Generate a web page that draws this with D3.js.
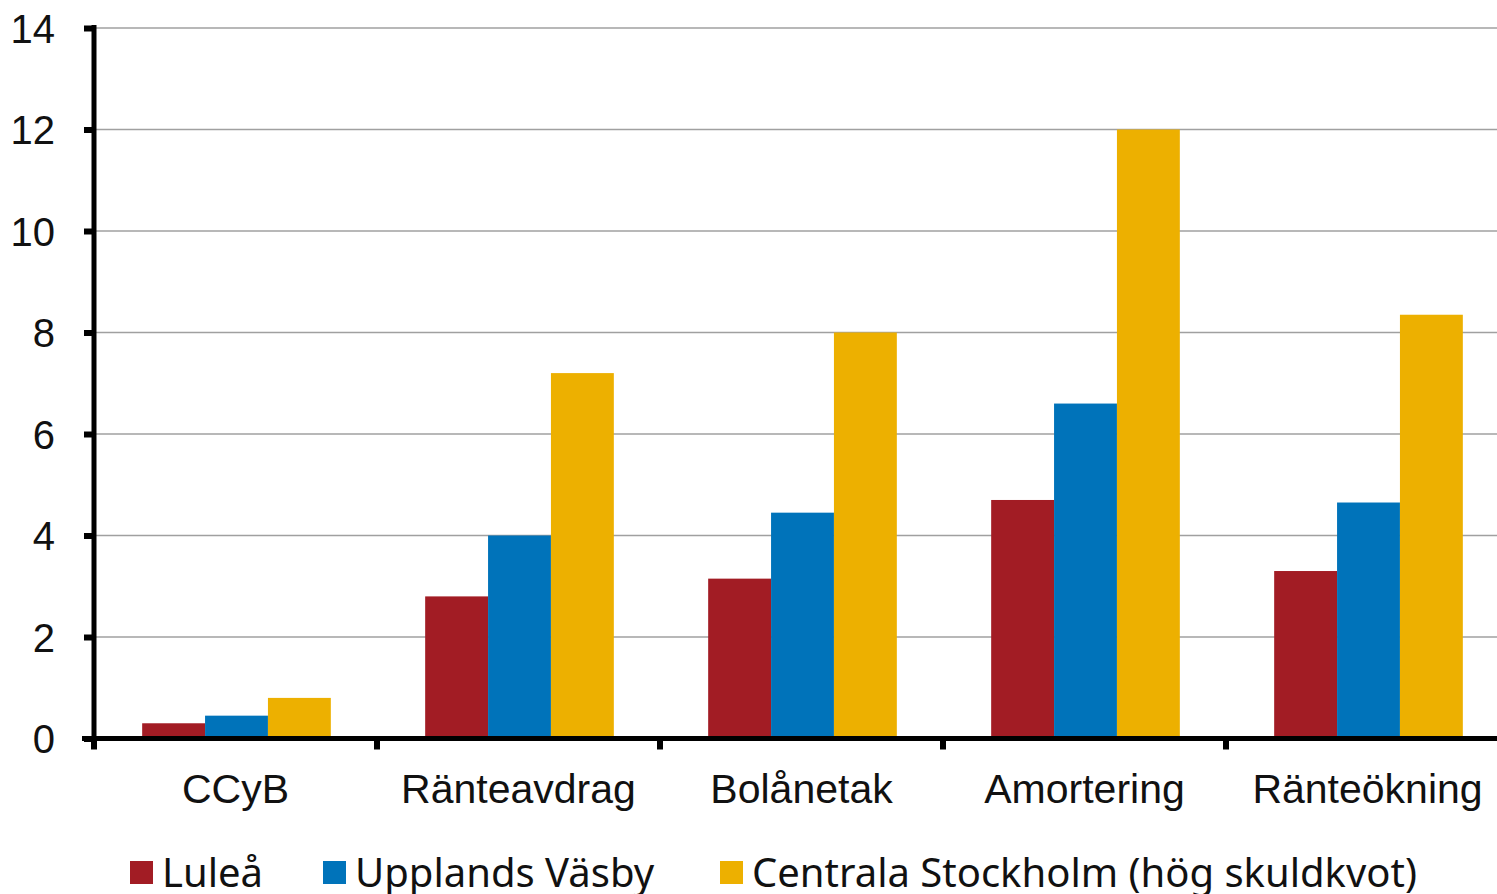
<!DOCTYPE html>
<html>
<head>
<meta charset="utf-8">
<script src="https://cdn.jsdelivr.net/npm/d3@7"></script>
<style>
  body { margin: 0; background: #fff; }
  svg { display: block; font-family: "Noto Sans", "Open Sans", sans-serif; }
</style>
</head>
<body>
<div id="chart"></div>
<script>
// Categories and series
const categories = ["CCyB", "Ränteavdrag", "Bolånetak", "Amortering", "Ränteökning"];
const seriesNames = ["Luleå", "Upplands Väsby", "Centrala Stockholm (hög skuldkvot)"];
const lulea = [0.3, 2.8, 3.15, 4.7, 3.3];
const upplandsVasby = [0.45, 4.0, 4.45, 6.6, 4.65];
const centralaStockholm = [0.8, 7.2, 8.0, 12.0, 8.35];
const yTicks = [0, 2, 4, 6, 8, 10, 12, 14];
const colors = ["#A21C24", "#0073BA", "#EDB000"];

const seriesValues = [lulea, upplandsVasby, centralaStockholm];

const width = 1497, height = 894;
const margin = { top: 28, left: 94, bottom: 155 };

const svg = d3.select("#chart")
    .append("svg")
    .attr("width", width)
    .attr("height", height);

// Scales
const x = d3.scaleBand()
    .domain(categories)
    .range([margin.left, margin.left + 283 * categories.length]);

const x1 = d3.scaleBand()
    .domain(d3.range(seriesNames.length))
    .range([0, x.bandwidth()])
    .paddingOuter(0.75)
    .paddingInner(0);

const y = d3.scaleLinear()
    .domain([0, 14])
    .range([height - margin.bottom - 0.5, margin.top]);

// Grid lines
svg.append("g")
    .selectAll("line")
    .data(yTicks.filter(d => d > 0))
    .join("line")
    .attr("x1", margin.left)
    .attr("x2", width)
    .attr("y1", d => y(d))
    .attr("y2", d => y(d))
    .attr("stroke", "#a0a0a0")
    .attr("stroke-width", 1.5);

// Bars
const groups = svg.append("g")
    .selectAll("g")
    .data(categories)
    .join("g")
    .attr("transform", d => "translate(" + (x(d) + 1) + ",0)");

groups.selectAll("rect")
    .data((c, i) => seriesValues.map((s, k) => ({ k: k, v: s[i] })))
    .join("rect")
    .attr("x", d => x1(d.k))
    .attr("width", x1.bandwidth())
    .attr("y", d => y(d.v))
    .attr("height", d => y(0) - y(d.v))
    .attr("fill", d => colors[d.k]);

// Y axis
const yAxis = svg.append("g")
    .attr("transform", "translate(" + margin.left + ",0)")
    .call(d3.axisLeft(y).tickValues(yTicks).tickSize(10).tickPadding(29));
yAxis.select(".domain")
    .attr("stroke", "#000")
    .attr("stroke-width", 5)
    .attr("d", "M0," + (y(0) + 2) + "V" + (margin.top - 3));
yAxis.selectAll(".tick line")
    .attr("stroke", "#000")
    .attr("stroke-width", 6);
yAxis.selectAll(".tick text")
    .attr("fill", "#111")
    .style("font-size", "40px")
    .attr("dy", "0.35em");

// X axis
const xAxis = svg.append("g")
    .attr("transform", "translate(0," + y(0) + ")")
    .call(d3.axisBottom(x).tickSize(0).tickPadding(35));
xAxis.select(".domain").remove();
xAxis.append("line")
    .attr("x1", margin.left - 12)
    .attr("x2", width)
    .attr("stroke", "#000")
    .attr("stroke-width", 5);
xAxis.selectAll(".cat-tick")
    .data(categories)
    .join("line")
    .attr("class", "cat-tick")
    .attr("x1", d => x(d))
    .attr("x2", d => x(d))
    .attr("y1", 0)
    .attr("y2", 11)
    .attr("stroke", "#000")
    .attr("stroke-width", 6);
xAxis.selectAll(".tick text")
    .attr("fill", "#111")
    .style("font-size", "41px")
    .attr("dy", "0.71em");

// Legend
const legendX = [130, 323, 720];
const legend = svg.append("g")
    .selectAll("g")
    .data(seriesNames)
    .join("g")
    .attr("transform", (d, i) => "translate(" + legendX[i] + ",861)");
legend.append("rect")
    .attr("width", 23)
    .attr("height", 23)
    .attr("fill", (d, i) => colors[i]);
legend.append("text")
    .attr("x", 32)
    .attr("y", 12)
    .attr("dy", "0.35em")
    .attr("fill", "#111")
    .style("font-size", "40px")
    .text(d => d);
</script>
</body>
</html>
